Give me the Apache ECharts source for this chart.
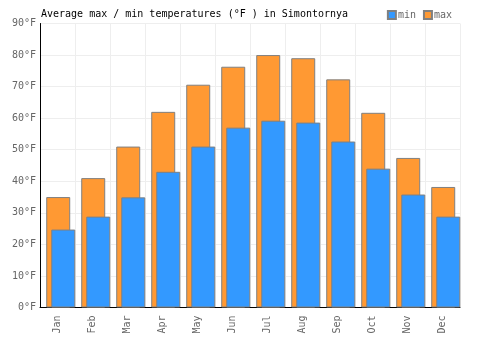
<!DOCTYPE html>
<html>
<head>
<meta charset="utf-8">
<script src="https://cdn.jsdelivr.net/npm/echarts@6/dist/echarts.min.js"></script>
<style>
  html, body { margin: 0; padding: 0; background: #fff; }
  #chart { width: 500px; height: 350px; }
</style>
</head>
<body>
<div id="chart"></div>
<script>
  // data
  const months = ['Jan', 'Feb', 'Mar', 'Apr', 'May', 'Jun', 'Jul', 'Aug', 'Sep', 'Oct', 'Nov', 'Dec']
  const maxTemps = [35, 41, 51, 62, 70.6, 76.3, 80, 79, 72.3, 61.7, 47.4, 38.2]
  const minTemps = [24.7, 28.8, 34.9, 43, 51, 57, 59.2, 58.6, 52.6, 44, 35.8, 28.8]

  const font = 'DejaVu Sans Mono'
  const mChart = echarts.init(document.getElementById('chart'))

  // hidden axes for the bars: same scale, group nudged a little to the right
  const hiddenAxis = {
    show: false,
    axisLine: { show: false },
    axisTick: { show: false },
    axisLabel: { show: false },
    splitLine: { show: false }
  }

  const option = {
    animation: false,
    title: {
      text: 'Average max / min temperatures (°F ) in Simontornya',
      left: 36,
      top: 4,
      textStyle: { fontFamily: font, fontSize: 10, fontWeight: 'normal', color: '#000' }
    },
    legend: {
      data: ['min', 'max'],
      right: 43,
      top: 5,
      itemWidth: 8,
      itemHeight: 8,
      itemGap: 7,
      icon: 'rect',
      textStyle: { fontFamily: font, fontSize: 10, color: '#666', padding: [0, 0, 0, -3] }
    },
    grid: [
      { left: 40, right: 40, top: 23.5, bottom: 42.5 },
      { left: 43.25, right: 36.75, top: 23.5, bottom: 42.5 }
    ],
    // x 轴
    xAxis: [
      {
        type: 'category',
        gridIndex: 0,
        data: months,
        axisLine: { show: true, lineStyle: { color: '#000', width: 1 } },
        axisTick: { show: false },
        axisLabel: {
          rotate: 90,
          fontFamily: font,
          fontSize: 10,
          color: '#666',
          interval: 0,
          margin: 8
        },
        splitLine: { show: true, lineStyle: { color: '#eeeeee' } }
      },
      Object.assign({ type: 'category', gridIndex: 1, data: months }, hiddenAxis)
    ],
    // y 轴
    yAxis: [
      {
        type: 'value',
        gridIndex: 0,
        min: 0,
        max: 90,
        interval: 10,
        axisLine: { show: true, lineStyle: { color: '#000', width: 1 } },
        axisTick: { show: false },
        axisLabel: {
          fontFamily: font,
          fontSize: 10,
          color: '#666',
          margin: 4,
          formatter: '{value}°F'
        },
        splitLine: { lineStyle: { color: '#eeeeee' } }
      },
      Object.assign({ type: 'value', gridIndex: 1, min: 0, max: 90, interval: 10 }, hiddenAxis)
    ],
    series: [
      {
        name: 'max',
        type: 'bar',
        xAxisIndex: 1,
        yAxisIndex: 1,
        data: maxTemps,
        barWidth: 24,
        barGap: '-79%',
        itemStyle: { color: '#FF9933', borderColor: '#808080', borderWidth: 1 }
      },
      {
        name: 'min',
        type: 'bar',
        xAxisIndex: 1,
        yAxisIndex: 1,
        data: minTemps,
        barWidth: 24,
        itemStyle: { color: '#3399FF', borderColor: '#808080', borderWidth: 1 }
      }
    ]
  }

  mChart.setOption(option)
  window.addEventListener('resize', function () {
    mChart.resize()
  })
</script>
</body>
</html>
